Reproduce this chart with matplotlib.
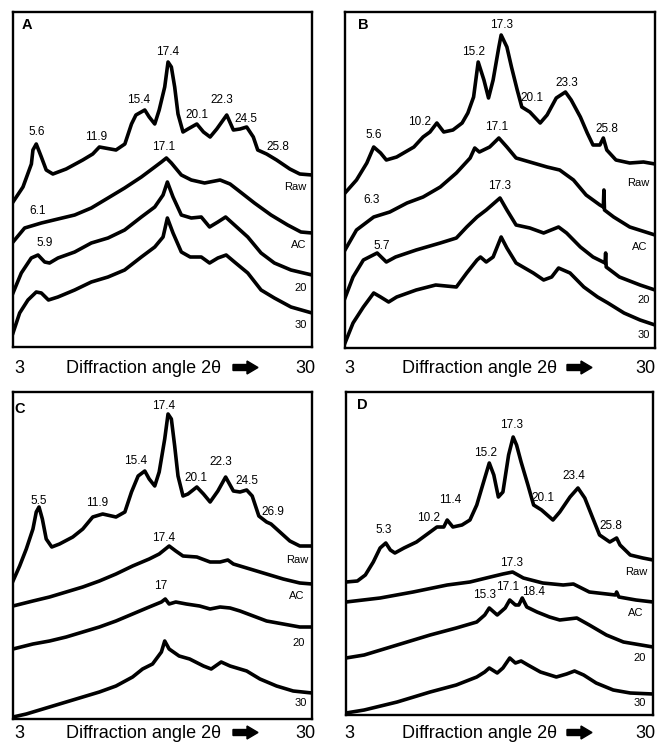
import matplotlib
matplotlib.use('Agg')
import matplotlib.pyplot as plt
from matplotlib import font_manager
from matplotlib.patches import FancyArrow

# ──────────────────────────────────────────────
# DATA  (2θ in degrees, intensity in arbitrary units)
# ──────────────────────────────────────────────
NAMES = ['Raw', 'AC', '20', '30']

# --- Panel A ---
A_RAW_X = [3.0, 3.9, 4.66, 4.8, 5.1, 5.56, 6.0, 6.6, 7.8, 9.3, 10.2, 10.8, 12.3, 13.1, 13.7,
           14.1, 14.9, 15.3, 15.8, 16.2, 16.7, 17.0, 17.3, 17.6, 17.9, 18.35, 18.8, 19.6,
           20.2, 20.8, 21.4, 22.3, 22.9, 23.5, 24.1, 24.7, 25.1, 25.9, 26.8, 28.0, 28.9, 30.0]
A_RAW_Y = [145, 160, 183, 197, 203, 190, 177, 173, 178, 187, 193, 200, 197, 203, 223,
           232, 237, 230, 223, 237, 260, 285, 280, 260, 233, 215, 218, 223,
           215, 210, 218, 232, 217, 218, 220, 210, 197, 193, 187, 178, 173, 172]
A_AC_X = [3.0, 4.05, 5.56, 7.06, 8.57, 10.07, 11.58, 13.08, 14.59, 15.8, 16.4, 16.85, 17.3,
          18.2, 19.1, 20.3, 21.7, 22.6, 23.3, 24.8, 26.3, 27.8, 29.0, 30.0]
A_AC_Y = [105, 119, 124, 128, 132, 139, 149, 159, 170, 180, 185, 189, 184,
          172, 167, 164, 167, 163, 157, 144, 132, 122, 115, 114]
A_20_X = [3.0, 3.75, 4.65, 5.26, 5.86, 6.3, 7.06, 8.57, 10.07, 11.58, 13.08, 14.59, 15.8,
          16.55, 16.94, 17.45, 18.2, 19.1, 20.0, 20.75, 21.5, 22.2, 23.0, 24.2, 25.4, 26.6,
          28.1, 30.0]
A_20_Y = [54, 74, 89, 92, 85, 84, 89, 95, 104, 109, 117, 130, 140,
          152, 165, 150, 132, 129, 130, 120, 125, 130, 122, 110, 94, 84,
          77, 72]
A_30_X = [3.0, 3.6, 4.35, 5.1, 5.56, 6.2, 7.06, 8.57, 10.07, 11.58, 13.08, 14.59, 15.8,
          16.55, 16.94, 17.45, 18.2, 19.0, 20.0, 20.75, 21.5, 22.25, 23.0, 24.2, 25.4, 26.6,
          28.1, 30.0]
A_30_Y = [14, 34, 47, 55, 54, 47, 50, 57, 65, 70, 77, 90, 100,
          110, 129, 114, 95, 90, 90, 84, 89, 92, 85, 74, 57, 49,
          40, 34]
A_PEAK_TXT = ['5.6', '11.9', '15.4', '17.4', '20.1', '22.3', '24.5', '25.8', '17.1', '6.1', '5.9']
A_PEAK_X = [5.1, 10.5, 14.3, 17.0, 19.6, 21.9, 24.0, 26.9, 16.6, 5.2, 5.9]
A_PEAK_Y = [215, 210, 247, 295, 232, 247, 228, 200, 200, 136, 104]
A_NAME_X = [28.5, 28.8, 29.0, 29.0]
A_NAME_Y = [160, 102, 59, 22]

# --- Panel B ---
B_RAW_X = [3.0, 4.0, 4.9, 5.5, 6.1, 6.6, 7.5, 9.0, 9.8, 10.4, 11.0, 11.6, 12.4, 13.2, 13.7,
           14.2, 14.6, 15.1, 15.5, 15.9, 16.4, 16.6, 17.1, 17.5, 18.0, 18.4, 19.1, 20.0,
           20.6, 21.4, 22.2, 22.7, 23.5, 24.1, 24.6, 25.2, 25.5, 25.8, 26.6, 27.8, 29.0, 30.0]
B_RAW_Y = [155, 168, 185, 201, 195, 188, 191, 201, 211, 216, 225, 216, 218, 225, 235,
           251, 286, 268, 250, 268, 301, 313, 301, 281, 258, 241, 236, 225,
           233, 250, 256, 248, 231, 215, 203, 203, 210, 198, 188, 185, 186, 184]
B_AC_X = [3.0, 4.0, 5.5, 6.9, 8.4, 9.8, 11.3, 12.7, 13.9, 14.3, 14.7, 15.6, 16.4, 17.1,
          17.9, 19.4, 20.6, 21.7, 22.9, 24.0, 25.2, 25.5, 25.55, 25.6, 26.4, 27.8, 30.0]
B_AC_Y = [98, 118, 131, 136, 145, 151, 161, 175, 190, 200, 196, 201, 210, 201,
          190, 185, 181, 178, 168, 153, 143, 141, 158, 138, 131, 121, 113]
B_20_X = [3.0, 3.7, 4.6, 5.8, 6.6, 7.4, 9.2, 11.3, 12.7, 13.6, 14.5, 15.3, 16.1, 16.5,
          17.1, 17.9, 19.1, 20.3, 21.6, 22.3, 23.5, 24.6, 25.65, 25.7, 25.75, 26.9, 28.7, 30.0]
B_20_Y = [50, 71, 88, 95, 86, 91, 98, 105, 110, 121, 131, 138, 146, 150,
          138, 123, 120, 115, 121, 115, 101, 91, 85, 95, 81, 71, 63, 58]
B_30_X = [3.0, 3.7, 4.6, 5.5, 6.1, 6.8, 7.5, 9.2, 10.9, 12.7, 13.6, 14.5, 14.8, 15.3, 15.9,
          16.6, 17.1, 17.9, 19.4, 20.3, 21.0, 21.6, 22.6, 23.8, 25.0, 25.9, 27.3, 28.7, 30.0]
B_30_Y = [5, 25, 41, 55, 51, 46, 51, 58, 63, 61, 75, 88, 91, 86, 91,
          111, 100, 85, 75, 68, 71, 80, 75, 61, 51, 45, 35, 28, 23]
B_PEAK_TXT = ['5.6', '10.2', '15.2', '17.3', '20.1', '23.3', '25.8', '17.1', '6.3', '17.3', '5.7']
B_PEAK_X = [5.5, 9.5, 14.2, 16.6, 19.3, 22.3, 25.8, 16.2, 5.3, 16.5, 6.2]
B_PEAK_Y = [213, 226, 296, 323, 250, 265, 219, 221, 148, 162, 102]
B_NAME_X = [28.5, 28.7, 29.0, 29.0]
B_NAME_Y = [165, 101, 48, 13]

# --- Panel C ---
C_RAW_X = [3.0, 3.6, 4.2, 4.8, 5.1, 5.35, 5.65, 6.0, 6.5, 7.2, 8.4, 9.3, 10.2, 11.1, 12.3,
           13.1, 13.7, 14.3, 14.9, 15.3, 15.8, 16.2, 16.7, 17.0, 17.3, 17.6, 17.9, 18.35,
           18.8, 19.6, 20.2, 20.8, 21.5, 22.2, 22.9, 23.5, 24.1, 24.6, 25.2, 25.9, 26.3,
           27.1, 28.0, 28.9, 30.0]
C_RAW_Y = [138, 153, 170, 190, 207, 212, 200, 180, 172, 175, 182, 190, 202, 205, 202,
           207, 227, 243, 248, 240, 233, 247, 280, 305, 300, 273, 243, 223,
           225, 232, 225, 217, 228, 242, 228, 227, 229, 223, 203, 197, 195,
           187, 178, 173, 173]
C_AC_X = [3.0, 4.8, 6.3, 7.8, 9.3, 10.8, 12.3, 13.8, 15.3, 16.2, 17.1, 17.7, 18.35, 19.6,
          20.8, 21.7, 22.4, 22.9, 24.4, 25.9, 27.4, 28.9, 30.0]
C_AC_Y = [113, 118, 122, 127, 132, 138, 145, 153, 160, 165, 173, 168, 163, 162,
          157, 157, 159, 155, 150, 145, 140, 136, 135]
C_20_X = [3.0, 4.8, 6.3, 7.8, 9.3, 10.8, 12.3, 13.8, 15.3, 16.4, 16.75, 17.1, 17.7, 18.65,
          19.85, 20.8, 21.7, 22.6, 23.5, 24.7, 25.9, 27.4, 28.9, 30.0]
C_20_Y = [70, 75, 78, 82, 87, 92, 98, 105, 112, 117, 120, 115, 117, 115,
          113, 110, 112, 111, 108, 103, 98, 95, 92, 92]
C_30_X = [3.0, 4.2, 6.3, 7.8, 9.3, 10.8, 12.3, 13.8, 14.7, 15.6, 16.4, 16.7, 17.1, 18.0,
          18.95, 20.2, 20.9, 21.8, 22.6, 24.1, 25.3, 26.8, 28.3, 30.0]
C_30_Y = [2, 5, 12, 17, 22, 27, 33, 42, 50, 55, 67, 78, 70, 63,
          60, 53, 50, 57, 53, 48, 40, 33, 28, 26]
C_PEAK_TXT = ['5.5', '11.9', '15.4', '17.4', '20.1', '22.3', '24.5', '26.9', '17.4', '17']
C_PEAK_X = [5.35, 10.6, 14.1, 16.6, 19.5, 21.8, 24.1, 26.5, 16.6, 16.3]
C_PEAK_Y = [218, 216, 258, 313, 241, 257, 238, 207, 181, 133]
C_NAME_X = [28.7, 28.6, 28.8, 29.0]
C_NAME_Y = [159, 123, 76, 16]

# --- Panel D ---
D_RAW_X = [3.0, 4.0, 4.7, 5.4, 6.0, 6.5, 6.9, 7.3, 8.1, 9.2, 10.4, 11.0, 11.6, 11.9, 12.4,
           13.2, 13.9, 14.5, 15.1, 15.6, 16.0, 16.4, 16.8, 17.3, 17.7, 18.0, 18.4, 19.0,
           19.5, 20.2, 21.2, 21.8, 22.7, 23.4, 24.0, 24.7, 25.3, 26.2, 26.8, 27.1, 28.0,
           29.1, 30.0]
D_RAW_Y = [133, 134, 140, 153, 167, 172, 165, 162, 167, 173, 183, 188, 188, 195, 188,
           190, 195, 210, 233, 252, 240, 218, 223, 260, 278, 270, 253, 230,
           210, 205, 195, 203, 218, 227, 217, 197, 180, 173, 177, 170, 160,
           157, 155]
D_AC_X = [3.0, 6.0, 8.9, 11.9, 13.9, 15.7, 16.8, 17.65, 18.6, 20.3, 22.1, 23.0, 24.4,
          26.7, 26.8, 27.0, 28.5, 30.0]
D_AC_Y = [113, 117, 123, 130, 133, 138, 141, 143, 137, 132, 130, 131, 123,
          120, 123, 118, 115, 113]
D_20_X = [3.0, 4.6, 7.5, 10.4, 12.7, 14.5, 15.2, 15.6, 16.3, 17.0, 17.4, 17.9, 18.2, 18.5,
          18.9, 19.8, 20.9, 21.8, 23.3, 24.4, 25.9, 27.4, 30.0]
D_20_Y = [57, 60, 70, 80, 87, 93, 100, 107, 100, 107, 115, 110, 110, 117,
          108, 103, 98, 95, 97, 90, 80, 73, 68]
D_30_X = [3.0, 4.6, 7.5, 10.4, 12.7, 14.5, 15.2, 15.6, 16.3, 16.8, 17.4, 17.9, 18.4, 19.0,
          20.1, 21.5, 22.4, 23.1, 23.9, 25.0, 26.5, 28.0, 30.0]
D_30_Y = [2, 5, 13, 23, 30, 38, 43, 47, 42, 47, 57, 52, 54, 50,
          43, 38, 41, 44, 40, 32, 25, 22, 21]
D_PEAK_TXT = ['5.3', '10.2', '11.4', '15.2', '17.3', '20.1', '23.4', '25.8',
              '17.3', '17.1', '15.3', '18.4']
D_PEAK_X = [6.3, 10.3, 12.2, 15.3, 17.6, 20.3, 23.0, 26.3, 17.6, 17.2, 15.2, 19.5]
D_PEAK_Y = [185, 197, 215, 262, 290, 217, 239, 189, 152, 128, 120, 123]
D_NAME_X = [28.5, 28.5, 28.8, 28.8]
D_NAME_Y = [143, 102, 57, 12]

PANEL_LETTERS = ['A', 'B', 'C', 'D']
LETTER_X = [4.3, 4.6, 3.6, 4.4]
LETTER_Y = [322, 323, 310, 310]


# ──────────────────────────────────────────────
# FONTS
# ──────────────────────────────────────────────
installed = {f.name for f in font_manager.fontManager.ttflist}
FAMILY = [f for f in ['Liberation Sans Narrow', 'Liberation Sans', 'DejaVu Sans'] if f in installed]
plt.rcParams['font.family'] = FAMILY
narrow = 'Liberation Sans Narrow' in installed
CAP_FS = 15 if narrow else 13
PEAK_FS = 9.5 if narrow else 8.5
NAME_FS = 8.5 if narrow else 8


# ──────────────────────────────────────────────
# FIGURE LAYOUT  (pixel boxes of the four frames)
# ──────────────────────────────────────────────
W, H = 661, 744
fig = plt.figure(figsize=(W / 100, H / 100), dpi=100)

boxes = {'A': (13, 12, 312, 347), 'B': (345, 12, 655, 348),
         'C': (13, 392, 312, 719), 'D': (346, 392, 653, 715)}


def make_axes(box):
    l, t, r, b = box
    ax = fig.add_axes([l / W, 1 - b / H, (r - l) / W, (b - t) / H])
    ax.set_xlim(3, 30)
    ax.set_ylim(0, b - t)
    ax.set_xticks([])
    ax.set_yticks([])
    for s in ax.spines.values():
        s.set_linewidth(1.7)
    return ax


def draw_panel(ax, curves, peak_txt, peak_x, peak_y, name_x, name_y, letter, lx, ly):
    for xs, ys in curves:
        ax.plot(xs, ys, color='black', linewidth=2.6, solid_joinstyle='round')
    for t, x, y in zip(peak_txt, peak_x, peak_y):
        ax.text(x, y, t, ha='center', va='center', fontsize=PEAK_FS)
    for t, x, y in zip(NAMES, name_x, name_y):
        ax.text(x, y, t, ha='center', va='center', fontsize=NAME_FS)
    ax.text(lx, ly, letter, ha='center', va='center', fontsize=10.5,
            fontweight='bold', family=['Liberation Sans', 'DejaVu Sans'])


panels = [
    ([(A_RAW_X, A_RAW_Y), (A_AC_X, A_AC_Y), (A_20_X, A_20_Y), (A_30_X, A_30_Y)],
     A_PEAK_TXT, A_PEAK_X, A_PEAK_Y, A_NAME_X, A_NAME_Y),
    ([(B_RAW_X, B_RAW_Y), (B_AC_X, B_AC_Y), (B_20_X, B_20_Y), (B_30_X, B_30_Y)],
     B_PEAK_TXT, B_PEAK_X, B_PEAK_Y, B_NAME_X, B_NAME_Y),
    ([(C_RAW_X, C_RAW_Y), (C_AC_X, C_AC_Y), (C_20_X, C_20_Y), (C_30_X, C_30_Y)],
     C_PEAK_TXT, C_PEAK_X, C_PEAK_Y, C_NAME_X, C_NAME_Y),
    ([(D_RAW_X, D_RAW_Y), (D_AC_X, D_AC_Y), (D_20_X, D_20_Y), (D_30_X, D_30_Y)],
     D_PEAK_TXT, D_PEAK_X, D_PEAK_Y, D_NAME_X, D_NAME_Y),
]

for i, letter in enumerate(PANEL_LETTERS):
    ax = make_axes(boxes[letter])
    draw_panel(ax, *panels[i], letter, LETTER_X[i], LETTER_Y[i])


# ──────────────────────────────────────────────
# AXIS CAPTIONS UNDER EACH PANEL
# ──────────────────────────────────────────────
# baseline y (px from top) per row; x centres (px) per column
row_base = [373, 738]
col_pos = [(19, 143, 233, 305), (349, 479, 567, 645)]

for yb in row_base:
    for x3, xt, xa, x30 in col_pos:
        y = 1 - yb / H
        fig.text(x3 / W, y, '3', ha='center', va='baseline', fontsize=CAP_FS)
        fig.text(xt / W, y, 'Diffraction angle 2θ', ha='center', va='baseline',
                 fontsize=CAP_FS)
        fig.text(x30 / W, y, '30', ha='center', va='baseline', fontsize=CAP_FS)
        # thick right arrow: 25 px long, 12 px head, 6 px shaft
        ya = 1 - (yb - 5.5) / H
        fig.add_artist(FancyArrow(xa / W, ya, 25 / W, 0, width=6 / H,
                                  head_width=13 / H, head_length=11 / W,
                                  length_includes_head=True, color='black',
                                  transform=fig.transFigure))

fig.savefig('out.png', dpi=100)
